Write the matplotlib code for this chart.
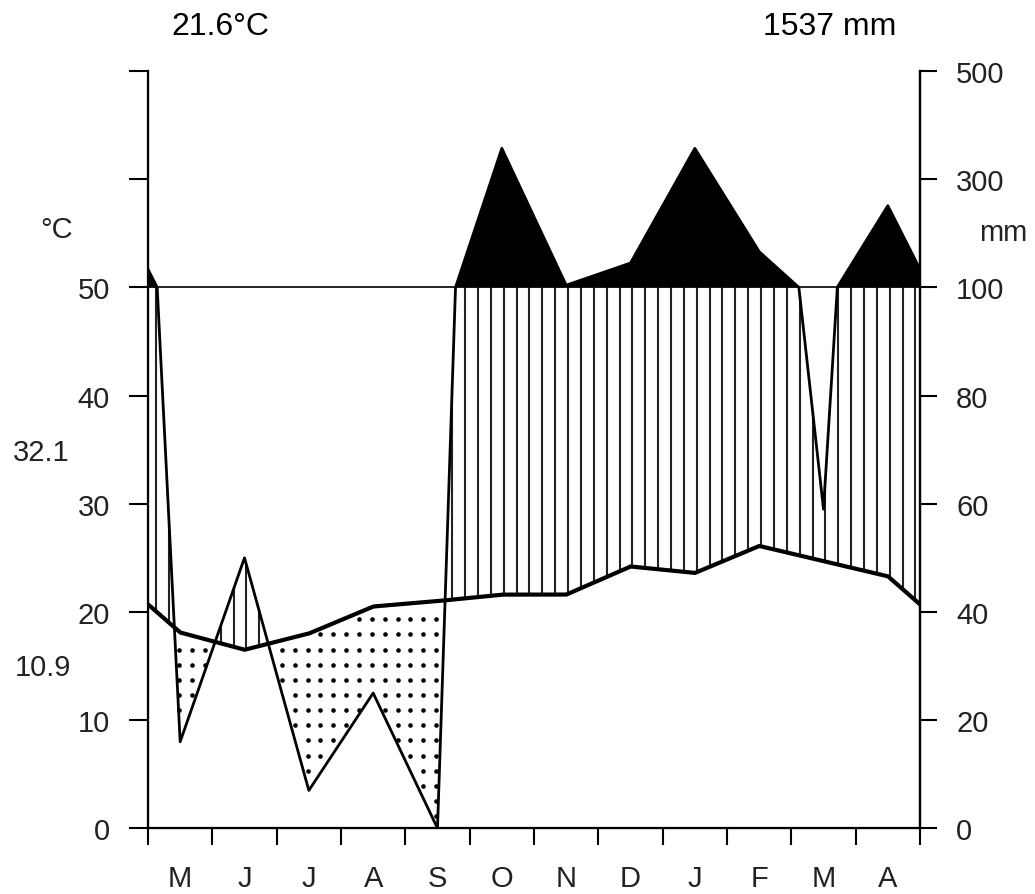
import matplotlib
matplotlib.use('Agg')
import matplotlib.pyplot as plt
import numpy as np

plt.rcParams['font.family'] = ['Liberation Sans', 'DejaVu Sans']

# monthly values, May .. April
months = ['M', 'J', 'J', 'A', 'S', 'O', 'N', 'D', 'J', 'F', 'M', 'A']
temp = [18.1, 16.5, 18.0, 20.5, 21.0, 21.6, 21.6, 24.2, 23.6, 26.1, 24.7, 23.3]
prec = [16, 50, 7, 25, 0, 357, 104, 145, 357, 166, 59, 251]
mean_temp = '21.6°C'
total_prec = '1537 mm'
max_label = '32.1'
min_label = '10.9'
left_ticks = ['0', '10', '20', '30', '40', '50', '', '']
right_ticks = ['0', '20', '40', '60', '80', '100', '300', '500']

W, H = 1035, 895
fig = plt.figure(figsize=(W / 100, H / 100), dpi=100)
ax = fig.add_axes([148 / W, (H - 829.3) / H, 772 / W, (829.3 - 72) / H])

# wrap the year around so the curves run to the edges
x_ext = np.arange(-0.5, 13.0, 1.0)
t_ext = np.array([temp[-1]] + temp + [temp[0]])
p_ext = np.array([prec[-1]] + prec + [prec[0]])

xf = np.linspace(0, 12, 4801)
tf = np.interp(xf, x_ext, t_ext)
pf = np.interp(xf, x_ext, p_ext)

def scale_p(p):
    p = np.asarray(p, dtype=float)
    return np.where(p <= 100, p / 2.0, 50 + (p - 100) / 20.0)

pt = scale_p(pf)

# very wet part, above 100 mm
ax.fill_between(xf, 50, pt, where=pt > 50, color='black', lw=0, interpolate=True)

# humid period: vertical lines
hx = np.arange(0.13, 12, 0.2)
ht = np.interp(hx, xf, tf)
hp = np.interp(hx, xf, pt)
ok = hp > ht
ax.vlines(hx[ok], ht[ok], np.minimum(hp[ok], 50), color='#222222', lw=1.5)

# dry period: dots
dx = np.arange(0.08, 12, 0.2)
dy = np.arange(1.12, 50, 1.4)
gx, gy = np.meshgrid(dx, dy)
gt = np.interp(gx, xf, tf)
gp = np.interp(gx, xf, pt)
m = (gy < gt - 0.3) & (gy > gp + 0.3)
ax.plot(gx[m], gy[m], 'o', color='black', ms=3.3, mew=0)

ax.axhline(50, color='black', lw=1.2)
ax.plot(xf, pt, color='black', lw=2.0)
ax.plot(xf, tf, color='black', lw=3.0)

ax.set_xlim(0, 12)
ax.set_ylim(0, 70)
ax.spines['top'].set_visible(False)
for s in ['left', 'right', 'bottom']:
    ax.spines[s].set_linewidth(1.6)

ax.set_xticks(range(13))
ax.set_xticklabels([])
ax.set_xticks(np.arange(0.5, 12, 1), minor=True)
ax.set_xticklabels(months, minor=True)
ax.tick_params(axis='x', which='major', length=12, width=1.5, direction='out')
ax.tick_params(axis='x', which='minor', length=0, pad=26, labelsize=21, labelcolor='#222222')

ax.set_yticks(range(0, 71, 10))
ax.set_yticklabels(left_ticks)
ax.tick_params(axis='y', length=13.5, width=1.5, pad=14, labelsize=21, labelcolor='#222222')

ax2 = ax.twinx()
ax2.set_ylim(0, 70)
ax2.set_yticks(range(0, 71, 10))
ax2.set_yticklabels(right_ticks)
ax2.tick_params(axis='y', length=12.5, width=1.5, pad=13.5, labelsize=21, labelcolor='#222222')
ax2.spines['top'].set_visible(False)
ax2.spines['right'].set_linewidth(1.6)

fig.text(171.7 / W, 1 - 27 / H, mean_temp, ha='left', va='center', fontsize=23, color='black')
fig.text(896.7 / W, 1 - 27 / H, total_prec, ha='right', va='center', fontsize=23, color='black')
fig.text(57 / W, 1 - 230 / H, '°C', ha='center', va='center', fontsize=21, color='#222222')
fig.text(1003 / W, 1 - 233 / H, 'mm', ha='center', va='center', fontsize=21, color='#222222')
fig.text(41 / W, 1 - 453 / H, max_label, ha='center', va='center', fontsize=21, color='#222222')
fig.text(43 / W, 1 - 668 / H, min_label, ha='center', va='center', fontsize=21, color='#222222')

fig.savefig('out.png', dpi=100)
